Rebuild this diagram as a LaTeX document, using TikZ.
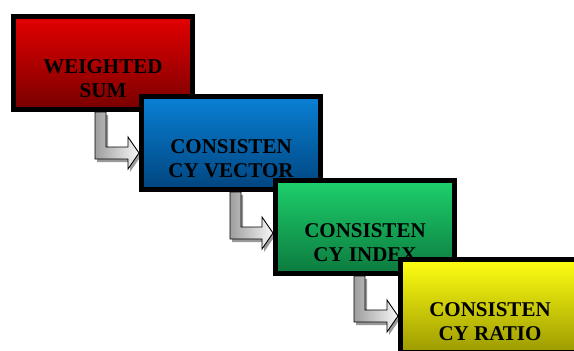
\documentclass[tikz,border=0pt]{standalone}
\usepackage{fontspec}
\setmainfont{Liberation Serif}
\usetikzlibrary{calc,backgrounds}
\definecolor{redtop}{HTML}{E40000}
\definecolor{redbot}{HTML}{780000}
\definecolor{bluetop}{HTML}{0A80D4}
\definecolor{bluebot}{HTML}{00457F}
\definecolor{greentop}{HTML}{1DD06C}
\definecolor{greenbot}{HTML}{0C7A3E}
\definecolor{yellowtop}{HTML}{FFFF12}
\definecolor{yellowbot}{HTML}{9C9A00}
\newcommand\bentarrow[4]{%
  \coordinate (#1#2s) at ($(#1.south west)+(#3,0)$);
  \coordinate (#1#2t) at ($(#2.north west)+(0,#4)$);
  \coordinate (#1#2c) at (#1#2s |- #1#2t);
  \path[arrowshadow] (#1#2s) -- ++(11,0) -- ($(#1#2c)+(11,-6)$) -- ($(#1#2t)+(-11,-6)$)
    -- ($(#1#2t)+(-11,-16)$) -- (#1#2t) -- ($(#1#2t)+(-11,16)$) -- ($(#1#2t)+(-11,6)$)
    -- ($(#1#2c)+(0,6)$) -- cycle;
  \path[blockarrow] (#1#2s) -- ++(11,0) -- ($(#1#2c)+(11,-6)$) -- ($(#1#2t)+(-11,-6)$)
    -- ($(#1#2t)+(-11,-16)$) -- (#1#2t) -- ($(#1#2t)+(-11,16)$) -- ($(#1#2t)+(-11,6)$)
    -- ($(#1#2c)+(0,6)$) -- cycle;
}
\begin{document}
\begin{tikzpicture}[x=1pt,y=-1pt,
  box/.style={draw=black, line width=5pt, minimum width=179pt, minimum height=93pt,
    inner sep=0pt, anchor=north west},
  lbl/.style={font=\fontsize{21}{24}\selectfont\bfseries, text=black, align=center,
    inner sep=0pt, anchor=north},
  arrowshadow/.style={fill=black!40, transform canvas={shift={(2pt,-3pt)}}},
  blockarrow/.style={draw=black, line width=0.9pt, left color=black!38, right color=black!3, line join=miter}]
\useasboundingbox (0,0) rectangle (574,351);

\node[box, top color=redtop, bottom color=redbot] (b1) at (11,14) {};
\node[lbl] (t1) at ($(b1.north)+(0,45.5)$) {WEIGHTED\\SUM};

\node[box, top color=bluetop, bottom color=bluebot] (b2) at (139,94) {};
\node[lbl] (t2) at ($(b2.north)+(0,45.5)$) {CONSISTEN\\CY VECTOR};

\node[box, top color=greentop, bottom color=greenbot] (b3) at (273,178) {};
\node[lbl] (t3) at ($(b3.north)+(0,45.5)$) {CONSISTEN\\CY INDEX};

\node[box, top color=yellowtop, bottom color=yellowbot] (b4) at (398,257) {};
\node[lbl] (t4) at ($(b4.north)+(0,45)$) {CONSISTEN\\CY RATIO};

\begin{scope}[on background layer]
  \fill[white] (0,0) rectangle (574,351);
  \bentarrow{b1}{b2}{84}{59}
  \bentarrow{b2}{b3}{91}{55}
  \bentarrow{b3}{b4}{81}{59}
\end{scope}
\end{tikzpicture}
\end{document}
